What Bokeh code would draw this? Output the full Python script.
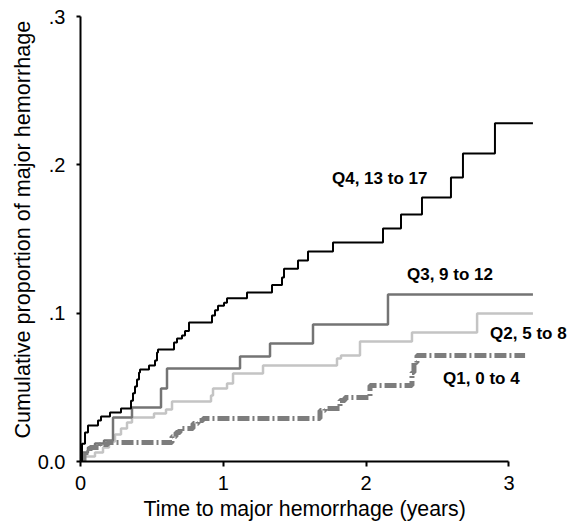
from bokeh.plotting import figure
from bokeh.models import Range1d, FixedTicker, Label, Title
from bokeh.embed import file_html
from bokeh.resources import INLINE

# ---- data ----
q4_t = [0.0105, 0.0315, 0.0525, 0.1225, 0.1436, 0.2066, 0.2836, 0.3536, 0.3676,
        0.3817, 0.3957, 0.4097, 0.4167, 0.4797, 0.5217, 0.5357, 0.5427, 0.6548,
        0.6758, 0.7108, 0.7318, 0.7598, 0.9209, 0.9419, 0.9629, 1.005, 1.026,
        1.166, 1.341, 1.411, 1.425, 1.523, 1.593, 1.768, 2.118, 2.244, 2.391,
        2.594, 2.678, 2.902]
q4_v = [0.012, 0.0196, 0.0243, 0.0276, 0.0303, 0.033, 0.0357, 0.041, 0.046,
        0.0506, 0.0553, 0.060, 0.062, 0.0647, 0.0681, 0.0735, 0.0755, 0.0802,
        0.083, 0.085, 0.088, 0.0937, 0.0984, 0.102, 0.105, 0.107, 0.110,
        0.114, 0.119, 0.124, 0.130, 0.1355, 0.1416, 0.1477, 0.157, 0.1666, 0.178,
        0.1915, 0.2077, 0.228]
q4_end = 3.168

q3_t = [0.0175, 0.0525, 0.1015, 0.1646, 0.2276, 0.3606, 0.5637, 0.6057, 1.117,
        1.327, 1.628, 2.153]
q3_v = [0.0061, 0.0094, 0.0121, 0.0142, 0.0297, 0.0364, 0.0492, 0.0627, 0.0708,
        0.0796, 0.0924, 0.1126]
q3_end = 3.168

q2_t = [0.0245, 0.1015, 0.1576, 0.1996, 0.2416, 0.2836, 0.3256, 0.3606, 0.5147,
        0.5987, 0.6408, 0.9139, 0.9279, 1.026, 1.068, 1.278, 1.796, 1.824, 1.957,
        2.321, 2.777]
q2_v = [0.0034, 0.0061, 0.0094, 0.0135, 0.0182, 0.0223, 0.0263, 0.0297, 0.0324,
        0.0351, 0.0405, 0.0445, 0.0492, 0.0526, 0.0593, 0.0647, 0.0695, 0.0715,
        0.0809, 0.0870, 0.0998]
q2_end = 3.168

q1_t = [0.0245, 0.0665, 0.1366, 0.1926, 0.6408, 0.6688, 0.6968, 0.7878, 0.8228,
        0.8578, 1.677, 1.712, 1.817, 1.852, 2.027, 2.321, 2.335, 2.356]
q1_v = [0.0061, 0.0094, 0.0115, 0.0128, 0.0169, 0.0196, 0.0223, 0.0256, 0.0276,
        0.029, 0.0344, 0.0357, 0.0411, 0.0432, 0.0512, 0.060, 0.0668, 0.0715]
q1_end = 3.113

x_ticks = [0, 1, 2, 3]
y_ticks = [0, 0.1, 0.2, 0.3]
y_tick_labels = ["0.0", ".1", ".2", ".3"]

series_labels = ["Q4, 13 to 17", "Q3, 9 to 12", "Q2, 5 to 8", "Q1, 0 to 4"]
label_t = [1.761, 2.286, 2.868, 2.539]
label_v = [0.1905, 0.1264, 0.0865, 0.056]

x_title = "Time to major hemorrhage (years)"
y_title = "Cumulative proportion of major hemorrhage"

FONT = "Liberation Sans"

p = figure(width=568, height=524, output_backend="svg", toolbar_location=None,
           x_range=Range1d(0, 3.417), y_range=Range1d(0, 0.3),
           min_border_left=80, min_border_right=0, min_border_top=16,
           min_border_bottom=63)
p.grid.visible = False
p.outline_line_color = None
p.background_fill_color = "white"
p.border_fill_color = "white"


def steps(t, v, end):
    return [0.0] + list(t) + [end], [0.0] + list(v) + [v[-1]]


xs, ys = steps(q2_t, q2_v, q2_end)
p.step(xs, ys, mode="after", line_color="#c4c4c4", line_width=2.5)
xs, ys = steps(q3_t, q3_v, q3_end)
p.step(xs, ys, mode="after", line_color="#747474", line_width=2.5)
xs, ys = steps(q1_t, q1_v, q1_end)
p.step(xs, ys, mode="after", line_color="#7d7d7d", line_width=5,
       line_dash="12 3 2 3")
xs, ys = steps(q4_t, q4_v, q4_end)
p.step(xs, ys, mode="after", line_color="black", line_width=2)

for txt, tx, ty in zip(series_labels, label_t, label_v):
    p.add_layout(Label(x=tx, y=ty, text=txt, text_font=FONT,
                       text_font_size="17px", text_font_style="bold",
                       text_baseline="middle", text_align="left",
                       text_color="black"))

for ax in (p.xaxis[0], p.yaxis[0]):
    ax.axis_line_width = 2
    ax.axis_line_color = "black"
    ax.major_tick_line_width = 2
    ax.major_tick_line_color = "black"
    ax.major_tick_in = 0
    ax.minor_tick_line_color = None
    ax.major_label_text_font = FONT
    ax.major_label_text_font_size = "20px"
    ax.major_label_text_color = "black"

xa = p.xaxis[0]
xa.bounds = (0, 3)
xa.ticker = FixedTicker(ticks=x_ticks)
xa.major_tick_out = 5
xa.major_label_standoff = 9

ya = p.yaxis[0]
ya.bounds = (0, 0.3)
ya.ticker = FixedTicker(ticks=y_ticks)
ya.major_label_overrides = {t: l for t, l in zip(y_ticks, y_tick_labels)}
ya.major_tick_out = 4
ya.major_label_standoff = 11

p.add_layout(Title(text=x_title, align="left", offset=63, standoff=5,
                   text_font=FONT, text_font_size="21.3px",
                   text_font_style="normal", text_color="black"), "below")
p.add_layout(Title(text=y_title, align="left", offset=23, standoff=0,
                   text_font=FONT, text_font_size="21.6px",
                   text_font_style="normal", text_color="black"), "left")

open("out.html", "w").write(file_html(p, INLINE))
